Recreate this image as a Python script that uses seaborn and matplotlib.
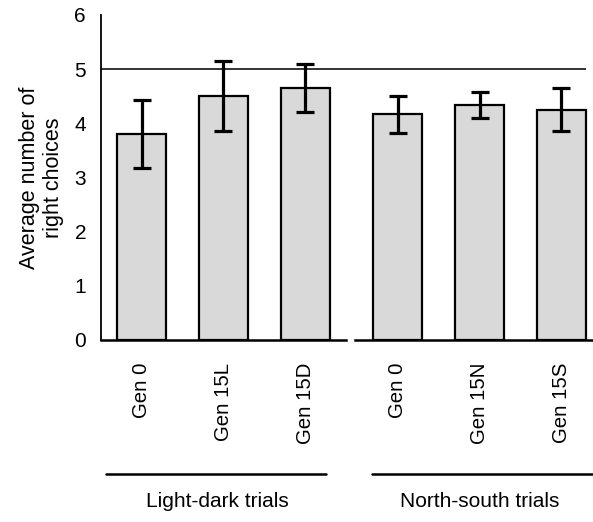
import numpy as np
import pandas as pd
import seaborn as sns
import matplotlib.pyplot as plt

# values
light_dark_labels = ["Gen 0", "Gen 15L", "Gen 15D"]
light_dark_means = [3.80, 4.50, 4.65]
light_dark_err = [0.63, 0.65, 0.45]

north_south_labels = ["Gen 0", "Gen 15N", "Gen 15S"]
north_south_means = [4.17, 4.33, 4.25]
north_south_err = [0.34, 0.24, 0.40]

group_names = ["Light-dark trials", "North-south trials"]
y_ticks = [0, 1, 2, 3, 4, 5, 6]
chance_level = 5

sns.set_style("white")
plt.rcParams['font.family'] = ['Liberation Sans', 'DejaVu Sans']
plt.rcParams['text.color'] = 'black'
plt.rcParams['xtick.color'] = 'black'
plt.rcParams['ytick.color'] = 'black'
plt.rcParams['axes.labelcolor'] = 'black'

fig = plt.figure(figsize=(5.93, 5.22), dpi=100)
ax1 = fig.add_axes([0.1698, 0.3487, 0.4137, 0.6226])
ax2 = fig.add_axes([0.5987, 0.3487, 0.4013, 0.6226])

bar_color = "#d9d9d9"

panels = [
    (ax1, light_dark_labels, light_dark_means, light_dark_err),
    (ax2, north_south_labels, north_south_means, north_south_err),
]

for ax, labels, means, errs in panels:
    df = pd.DataFrame({"gen": labels, "mean": means})
    sns.barplot(data=df, x="gen", y="mean", color=bar_color, edgecolor="black",
                linewidth=1.6, width=0.6, saturation=1, errorbar=None, ax=ax)
    ax.errorbar(np.arange(len(labels)), means, yerr=errs, fmt="none",
                ecolor="black", elinewidth=2.3, capsize=6.5, capthick=2.3, zorder=5)
    ax.set_ylim(0, 6)
    ax.set_xlabel("")
    ax.set_ylabel("")
    ax.tick_params(axis="x", length=0, pad=16.5, labelsize=14.7)
    ax.set_xticks(range(len(labels)))
    ax.set_xticklabels(labels, rotation=90, va="top", ha="center")
    for s in ["top", "right"]:
        ax.spines[s].set_visible(False)
    ax.spines["bottom"].set_linewidth(1.8)
    ax.spines["bottom"].set_color("black")

ax1.set_xlim(-0.5, 2.5)
ax2.set_xlim(-0.524, 2.389)

ax1.spines["left"].set_linewidth(1.3)
ax1.spines["left"].set_color("black")
ax1.set_yticks(y_ticks)
ax1.tick_params(axis="y", length=0, pad=10.5, labelsize=15)
ax1.set_ylabel("Average number of\nright choices", fontsize=15.5, linespacing=1.2)
ax1.yaxis.set_label_coords(-0.15, 0.5)

ax2.spines["left"].set_visible(False)
ax2.set_yticks([])

# chance line at 5, continuous over the gap between the panels
ax1.axhline(chance_level, color="#333333", linewidth=1.4, zorder=1)
ax2.hlines(chance_level, -0.64, 2.3, color="#333333", linewidth=1.4, zorder=1, clip_on=False)

# group brackets below the tick labels
ax1.plot([-0.435, 2.256], [-0.413, -0.413], color="black", linewidth=1.8,
         transform=ax1.get_xaxis_transform(), clip_on=False)
ax2.plot([-0.32, 2.39], [-0.413, -0.413], color="black", linewidth=1.8,
         transform=ax2.get_xaxis_transform(), clip_on=False)
ax1.text(0.93, -0.4975, group_names[0], transform=ax1.get_xaxis_transform(),
         ha="center", va="center", fontsize=15)
ax2.text(1.0, -0.4975, group_names[1], transform=ax2.get_xaxis_transform(),
         ha="center", va="center", fontsize=15)

plt.savefig("out.png", dpi=100)
